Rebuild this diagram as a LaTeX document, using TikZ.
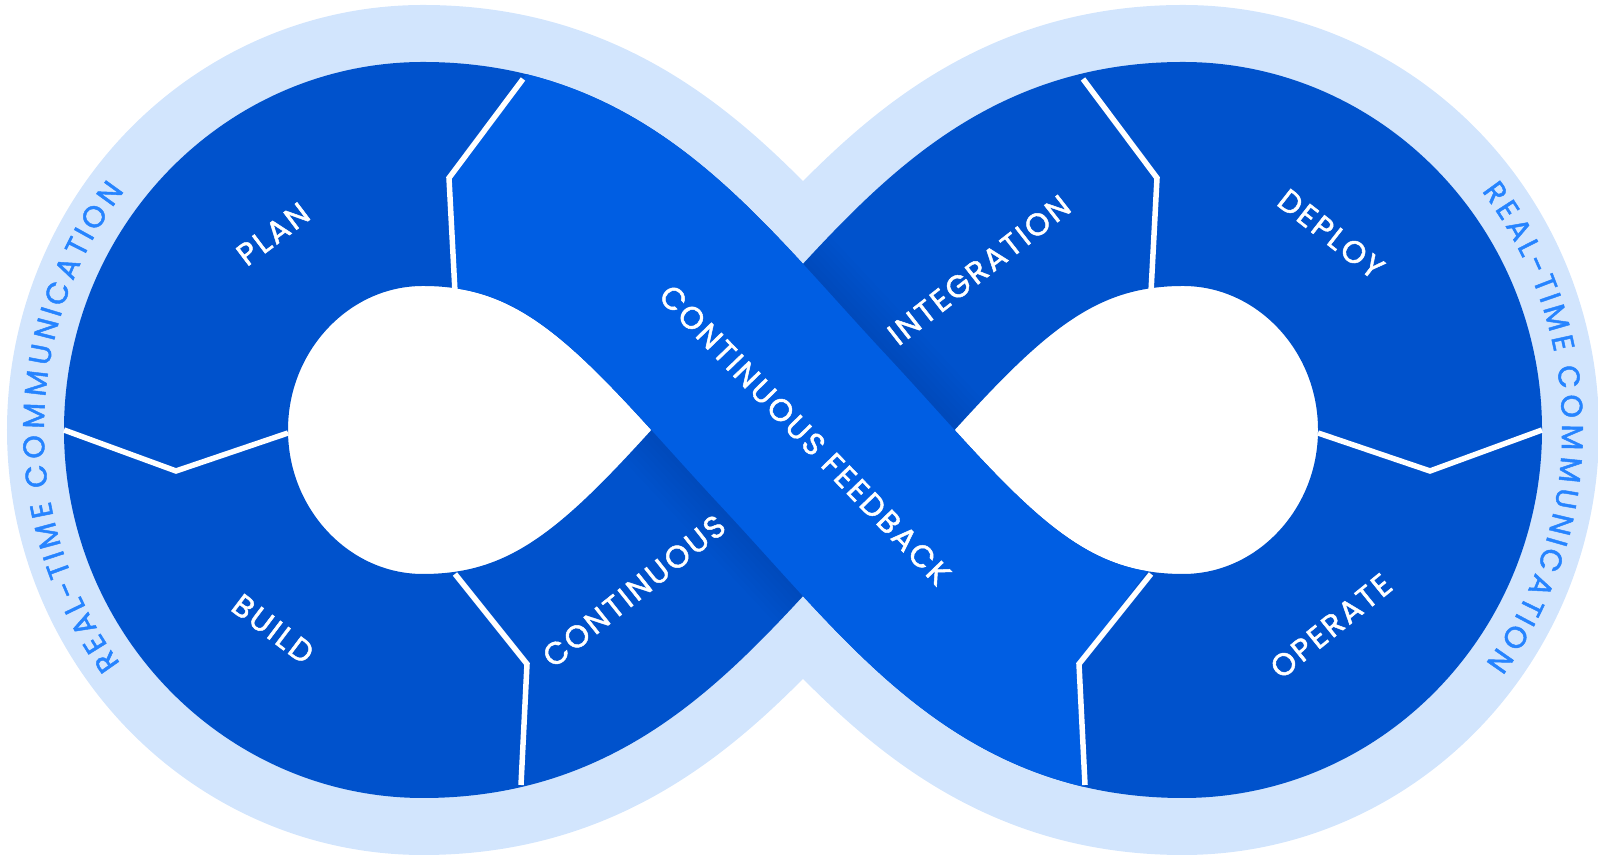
\documentclass[tikz,border=0pt]{standalone}
\usepackage{fontspec}
\setmainfont{Poppins}
\newfontfamily\stagefont{Poppins}[LetterSpace=8, FakeBold=1.5]
\newfontfamily\commfont{Poppins}[FakeBold=1.5]
\usetikzlibrary{calc, decorations.text}
\definecolor{borderblue}{HTML}{D2E5FD}
\definecolor{bandblue}{HTML}{0052CC}
\definecolor{feedblue}{HTML}{005EE3}
\definecolor{commblue}{HTML}{2684FF}
\tikzset{%
    border/.style={%
        draw=borderblue,
        line width=338pt,
    },
    band/.style={%
        draw=bandblue,
        line width=224pt,
    },
    feedback/.style={%
        draw=feedblue,
        line width=224pt,
    },
    divider/.style={%
        draw=white,
        line width=5.5pt,
        line join=miter,
    },
    stage/.style={%
        text=white,
        inner sep=0pt,
        font=\stagefont\fontsize{31}{31}\selectfont,
    },
    commtext/.style={%
        decorate,
        decoration={%
            text effects along path,
            text={REAL-TIME COMMUNICATION},
            text effects/.cd,
            text along path,
            fit text to path,
            every character/.style={text=commblue, font=\commfont\fontsize{30}{30}\selectfont},
        },
    },
}

\begin{document}
\begin{tikzpicture}[x=1pt, y=1pt]
	\useasboundingbox (0,0) rectangle (1598,858);
	% centre line of the loop
	\coordinate (cross) at (803,428);
	\coordinate (ltop) at (423,684);
	\coordinate (lleft) at (176,428);
	\coordinate (lbot) at (423,172);
	\coordinate (rtop) at (1183,684);
	\coordinate (rright) at (1430,428);
	\coordinate (rbot) at (1183,172);

	\path[save path=\infloop] (cross)
		.. controls +(133:190) and +(170,0) .. (ltop)
		.. controls +(-136,0) and +(0,141) .. (lleft)
		.. controls +(0,-141) and +(-136,0) .. (lbot)
		.. controls +(170,0) and +(227:190) .. (cross)
		.. controls +(47:190) and +(-170,0) .. (rtop)
		.. controls +(136,0) and +(0,141) .. (rright)
		.. controls +(0,-141) and +(136,0) .. (rbot)
		.. controls +(-170,0) and +(313:190) .. (cross);

	\draw[border, use path=\infloop];
	% clear the two holes
	\fill[white] (cross)
		.. controls +(133:190) and +(170,0) .. (ltop)
		.. controls +(-136,0) and +(0,141) .. (lleft)
		.. controls +(0,-141) and +(-136,0) .. (lbot)
		.. controls +(170,0) and +(227:190) .. (cross) -- cycle;
	\fill[white] (cross)
		.. controls +(47:190) and +(-170,0) .. (rtop)
		.. controls +(136,0) and +(0,141) .. (rright)
		.. controls +(0,-141) and +(136,0) .. (rbot)
		.. controls +(-170,0) and +(313:190) .. (cross) -- cycle;
	\draw[band, use path=\infloop];

	% shadow of the feedback band on the lower band
	\foreach \w in {5,10,...,40} {
		\begin{scope}
			\clip[rotate around={-47:(cross)}] ($(cross)+(-320,-112-\w)$) rectangle ($(cross)+(320,112+\w)$);
			\draw[line width=224pt, black, opacity=0.009] (lbot)
				.. controls +(170,0) and +(227:190) .. (cross)
				.. controls +(47:190) and +(-170,0) .. (rtop);
		\end{scope}
	}

	% continuous feedback band
	\begin{scope}
		\clip (590,870) -- (523,779) -- (449,680) -- (455,566) -- (455,-10)
			-- (1084,-10) -- (1083,73) -- (1077,194) -- (1146,285) -- (1186,338)
			-- (1186,870) -- cycle;
		\draw[feedback] (rbot)
			.. controls +(-170,0) and +(313:190) .. (cross)
			.. controls +(133:190) and +(170,0) .. (ltop);
	\end{scope}

	% dividers
	\draw[divider] (64,428) -- (176,387) -- (288,425);
	\draw[divider] (1542,428) -- (1430,387) -- (1318,425);
	\draw[divider] (523,779) -- (449,680) -- (455,566);
	\draw[divider] (1083,779) -- (1157,680) -- (1151,566);
	\draw[divider] (455,284) -- (527,194) -- (521,73);
	\draw[divider] (1151,284) -- (1079,194) -- (1085,73);

	% stage labels
	\node[stage, rotate=37] (plan) at (273,624) {PLAN};
	\node[stage, rotate=-37] (build) at (273,229) {BUILD};
	\node[stage, rotate=38.5] (cont) at (634,267) {CONTINUOUS};
	\node[stage, rotate=-46] (feedback) at (805,423) {CONTINUOUS FEEDBACK};
	\node[stage, rotate=38] (integ) at (979,588) {INTEGRATION};
	\node[stage, rotate=-38] (deploy) at (1331,624) {DEPLOY};
	\node[stage, rotate=39] (operate) at (1331,232) {OPERATE};

	% real-time communication round the two ends
	\path[commtext] (423,428) ++(217:379 and 388) arc[start angle=217, end angle=142, x radius=379, y radius=388];
	\path[commtext] (1183,428) ++(38:379 and 388) arc[start angle=38, end angle=-37, x radius=379, y radius=388];
\end{tikzpicture}
\end{document}
